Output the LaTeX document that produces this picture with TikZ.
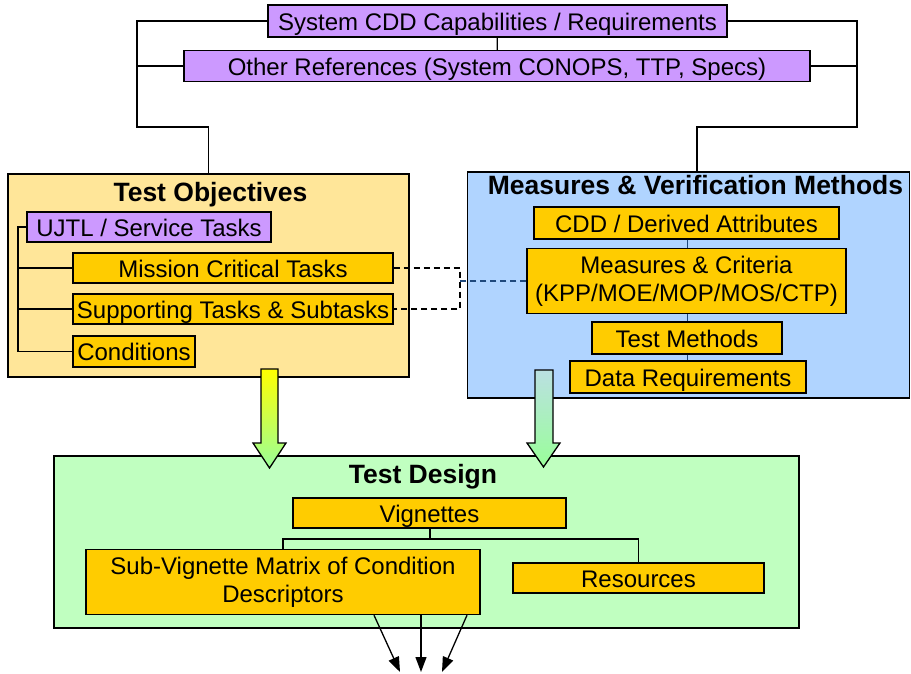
\documentclass[tikz,border=0pt]{standalone}
\usepackage{fontspec}
\setmainfont{Liberation Sans}
\usetikzlibrary{arrows.meta}
\definecolor{lav}{RGB}{204,153,255}
\definecolor{org}{RGB}{255,204,0}
\definecolor{toY}{RGB}{255,230,153}
\definecolor{mvB}{RGB}{176,212,255}
\definecolor{tdG}{RGB}{192,255,192}
\definecolor{navy}{RGB}{31,73,125}
\definecolor{arrG}{RGB}{153,255,153}
\definecolor{arrT}{RGB}{187,224,226}
\begin{document}
\begin{tikzpicture}[x=1pt,y=-1pt,
  box/.style={draw=black, line width=1.4pt, inner sep=0pt, align=center,
              font=\fontsize{24}{27.6}\selectfont},
  one/.style={text height=19.5pt, text depth=1pt},
  pbox/.style={box, one, fill=lav},
  obox/.style={box, one, fill=org},
  obox2/.style={box, fill=org},
  big/.style={draw=black, line width=1.6pt, inner sep=0pt},
  ttl/.style={font=\fontsize{26.5}{30}\selectfont\bfseries, inner sep=0pt, anchor=base},
  conn/.style={line width=1.3pt},
  dconn/.style={line width=1.3pt, dash pattern=on 6pt off 4pt},
  blockarrow/.style={draw=black, line width=1.3pt},
  tip/.style={line width=1.3pt, -{Triangle[length=15pt,width=11pt]}}
]
\useasboundingbox (0,0) rectangle (911,674);

% containers
\node[big, fill=toY, minimum width=401pt, minimum height=203pt] (to) at (208.5,275.5) {};
\node[big, fill=mvB, minimum width=442pt, minimum height=226pt] (mv) at (688.5,285) {};
\node[big, fill=tdG, minimum width=745pt, minimum height=172pt] (td) at (426.5,542) {};

\node[ttl] (toT) at (210.5,202) {Test Objectives};
\node[ttl] (mvT) at (695.5,194) {Measures \& Verification Methods};
\node[ttl] (tdT) at (423,483) {Test Design};

% top references
\node[pbox, minimum width=459pt, minimum height=32pt] (sys) at (497.5,21) {System CDD Capabilities / Requirements};
\node[pbox, minimum width=626pt, minimum height=31pt] (oth) at (497,66) {Other References (System CONOPS, TTP, Specs)};

% test objectives content
\node[pbox, minimum width=244pt, minimum height=30pt] (ujtl) at (149,227) {UJTL / Service Tasks};
\node[obox, minimum width=320pt, minimum height=30pt] (mct) at (233,268) {Mission Critical Tasks};
\node[obox, minimum width=320pt, minimum height=30pt] (sup) at (233,309) {Supporting Tasks \& Subtasks};
\node[obox, minimum width=122pt, minimum height=31pt] (cond) at (134,351.5) {Conditions};

% measures content
\node[obox, minimum width=305pt, minimum height=32pt] (cdd) at (686.5,223) {CDD / Derived Attributes};
\node[obox2, minimum width=319pt, minimum height=65pt] (mc) at (686.5,281) {Measures \& Criteria\\(KPP/MOE/MOP/MOS/CTP)};
\node[obox, minimum width=190pt, minimum height=32pt] (tm) at (687,338) {Test Methods};
\node[obox, minimum width=236pt, minimum height=32pt] (dr) at (688,377) {Data Requirements};

% test design content
\node[obox, minimum width=273pt, minimum height=30pt] (vig) at (429.5,513) {Vignettes};
\node[obox2, minimum width=394pt, minimum height=65pt] (sv) at (283,582) {Sub-Vignette Matrix of Condition\\Descriptors};
\node[obox, minimum width=251pt, minimum height=30pt] (res) at (638.5,578) {Resources};

% top connectors
\coordinate (lx) at (137,127);
\coordinate (rx) at (857,127);
\draw[conn] (sys) -- (oth);
\draw[conn] (sys.west) -| (lx) -| (to.north);
\draw[conn] (oth.west) -- (oth.west -| lx);
\draw[conn] (sys.east) -| (rx) -- (697,127) -- (697,172);
\draw[conn] (oth.east) -- (oth.east -| rx);

% tree in test objectives
\coordinate (tx) at (18,0);
\draw[conn] (ujtl.west) -- (ujtl.west -| tx) |- (cond.west);
\draw[conn] (mct.west -| tx) -- (mct.west);
\draw[conn] (sup.west -| tx) -- (sup.west);

% measures chain
\draw[conn, navy, line width=1pt] (cdd.south -| 687,0) -- (mc.north -| 687,0);
\draw[conn, navy, line width=1pt] (mc.south -| 687,0) -- (tm.north -| 687,0);
\draw[conn, navy, line width=1pt] (tm.south -| 687,0) -- (dr.north -| 687,0);

% dashed links
\coordinate (dj) at (460,281);
\draw[dconn] (mct.east) -| (dj |- sup.east) -- (sup.east);
\draw[dconn, navy] (mc.west) -- (dj);

% test design tree
\coordinate (vj) at (430,539);
\draw[conn] (vig.south -| vj) -- (vj);
\draw[conn] (sv.north) |- (vj) -| (res.north);

% block arrows
\path[blockarrow, top color=yellow, bottom color=arrG]
  (261,369) -- (278,369) -- (278,443) -- (286,443) -- (269.5,468) -- (253,443) -- (261,443) -- cycle;
\path[blockarrow, top color=arrT, bottom color=arrG]
  (535,370) -- (553,370) -- (553,443) -- (560,443) -- (543.5,467) -- (527,443) -- (535,443) -- cycle;

% output arrows
\coordinate (o1) at (400,672);
\coordinate (o2) at (421,672);
\coordinate (o3) at (442,672);
\draw[tip] (sv.south -| 374,0) -- (o1);
\draw[tip] (sv.south -| 421,0) -- (o2);
\draw[tip] (sv.south -| 467,0) -- (o3);
\end{tikzpicture}
\end{document}
